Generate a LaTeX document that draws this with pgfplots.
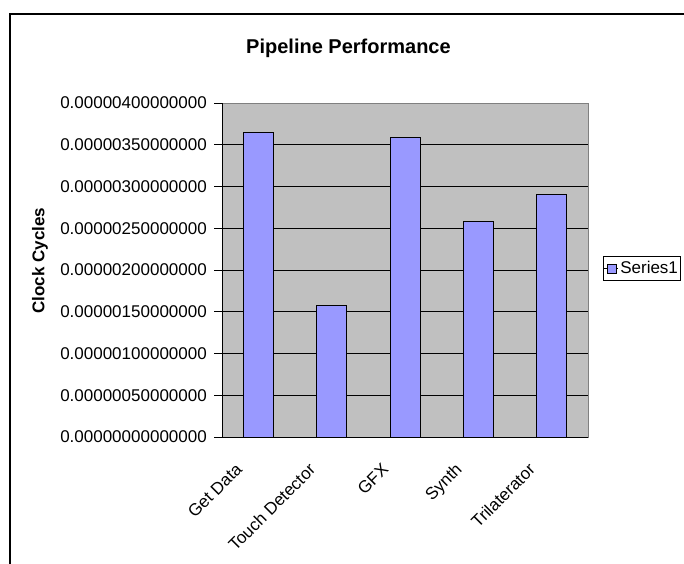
\documentclass[border=0pt]{standalone}
\usepackage{pgfplots}
\pgfplotsset{compat=1.18}
\usepackage{fontspec}
\setmainfont{Liberation Sans}
\definecolor{barblue}{HTML}{9999FF}
\definecolor{plotgray}{HTML}{C0C0C0}
\definecolor{bordergray}{HTML}{808080}

\begin{document}
\begin{tikzpicture}
\useasboundingbox (0,0) rectangle (684pt,563pt);
\fill[white] (0,0) rectangle (684pt,563pt);
% chart frame (only its left and top edges fall inside the page)
\begin{scope}
  \clip (0,0) rectangle (684pt,563pt);
  \draw[line width=1.3pt] (10pt,-10pt) -- (10pt,549pt) -- (700pt,549pt);
\end{scope}
\begin{axis}[
  at={(222pt,126pt)}, anchor=south west,
  scale only axis, width=366pt, height=334pt,
  xmin=-0.5, xmax=4.5, ymin=0, ymax=0.000004,
  ybar, bar width=30pt,
  axis background/.style={fill=plotgray, draw=bordergray, line width=1pt},
  axis x line*=bottom, axis y line*=left,
  axis line style={black, line width=1pt},
  tick align=outside,
  major tick length=8pt, minor tick length=8pt,
  tick style={black, line width=1pt},
  xtick={0,1,2,3,4},
  xticklabels={Get Data, Touch Detector, GFX, Synth, Trilaterator},
  xtick style={draw=none},
  minor xtick={-0.5,0.5,1.5,2.5,3.5,4.5},
  ytick={0,0.0000005,0.000001,0.0000015,0.000002,0.0000025,0.000003,0.0000035},
  extra y ticks={0.000004},
  extra y tick style={grid=none},
  ymajorgrids, major grid style={black, line width=1pt},
  scaled y ticks=false,
  /pgf/number format/fixed,
  /pgf/number format/fixed zerofill,
  /pgf/number format/precision=14,
  /pgf/number format/assume math mode=true,
  yticklabel style={font=\fontsize{17}{20}\selectfont, inner sep=2pt, xshift=-5pt},
  xticklabel style={font=\fontsize{17}{20}\selectfont, rotate=45, anchor=north east, inner sep=2pt,
    xshift=-27pt, yshift=7pt},
  title={\textbf{Pipeline Performance}},
  title style={font=\fontsize{20}{24}\selectfont, at={(axis description cs:0.3456,1.1467)}, anchor=center},
  ylabel={\textbf{Clock Cycles}},
  ylabel style={font=\fontsize{17}{20}\selectfont, at={(axis description cs:-0.497,0.528)}, anchor=center},
  legend style={at={(axis description cs:1.041,0.5045)}, anchor=west, draw=black, line width=0.6pt,
    font=\fontsize{17}{20}\selectfont, inner xsep=0pt, inner ysep=3pt, cells={anchor=west}},
  legend image code/.code={
    \path (-3pt,0pt) -- (11pt,0pt);
    \draw[#1, line width=0.6pt] (0pt,-4.5pt) rectangle (9pt,4.5pt);},
]
\addplot[fill=barblue, draw=black, line width=1pt] coordinates {
  (0,0.00000365) (1,0.00000157) (2,0.00000359) (3,0.00000258) (4,0.00000290)
};
\legend{Series1}
\end{axis}
\end{tikzpicture}
\end{document}
